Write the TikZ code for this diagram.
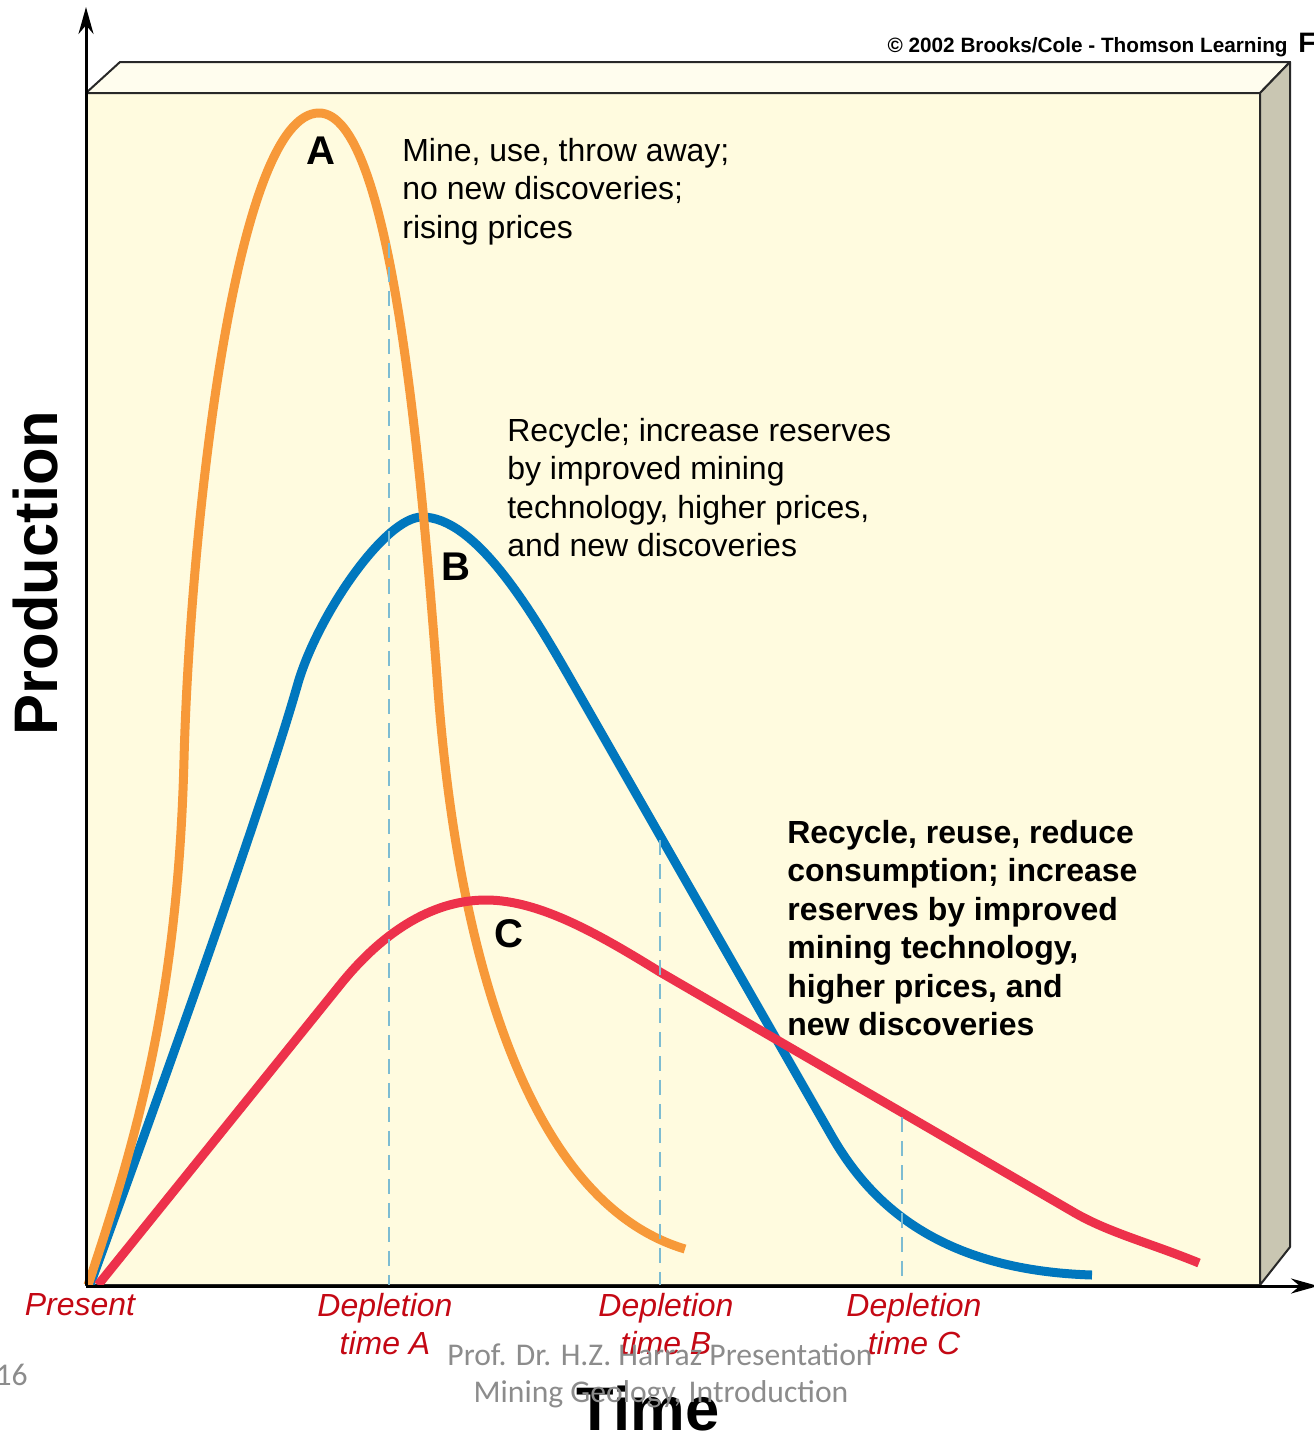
\documentclass[tikz,border=0pt]{standalone}
\usepackage{fontspec}
\setmainfont{Liberation Sans}
\newfontfamily\slideFont{Carlito}
\usetikzlibrary{arrows.meta}
\usetikzlibrary{positioning}

\definecolor{faceFront}{RGB}{255,251,223}
\definecolor{faceTop}{RGB}{255,253,238}
\definecolor{faceSide}{RGB}{201,198,178}
\definecolor{boxEdge}{RGB}{40,40,40}
\definecolor{curveOrange}{RGB}{247,153,57}
\definecolor{curveBlue}{RGB}{0,119,190}
\definecolor{curveRed}{RGB}{237,49,75}
\definecolor{dashBlue}{RGB}{125,188,210}
\definecolor{labelRed}{RGB}{196,8,20}
\definecolor{slideGray}{RGB}{140,140,140}

\tikzset{
  prodCurve/.style={line width=0.18cm, line cap=butt, line join=round},
  depletionLine/.style={draw=dashBlue, line width=0.04cm, dash pattern=on 0.3cm off 0.18cm},
  axisLine/.style={line width=0.06cm, -{Stealth[length=0.54cm, width=0.3cm]}},
  noteText/.style={inner sep=0pt, anchor=north west, align=left, font=\fontsize{18.2}{21.85}\selectfont},
  noteBold/.style={noteText, font=\fontsize{18.2}{21.85}\selectfont\bfseries},
  timeLabel/.style={inner sep=0pt, anchor=north, align=center, text=labelRed, font=\fontsize{18.2}{21.85}\selectfont\itshape},
  curveLetter/.style={inner sep=0pt, font=\fontsize{22.8}{22.8}\selectfont\bfseries},
  axisTitle/.style={inner sep=0pt, anchor=base, font=\fontsize{35}{35}\selectfont\bfseries},
  slideText/.style={inner sep=0pt, anchor=base, text=slideGray, font=\slideFont\fontsize{18}{18}\selectfont}
}

\begin{document}
\begin{tikzpicture}[x=0.02cm, y=-0.02cm]
    \useasboundingbox (0,0) rectangle (1313,1440);

    \fill [faceFront] (86,93) rectangle (1260,1285);
    \filldraw [fill=faceTop, draw=boxEdge, line width=0.04cm, line join=round] (86,93) -- (120,62) -- (1290,62) -- (1260,93) -- cycle;
    \filldraw [fill=faceSide, draw=boxEdge, line width=0.04cm, line join=round] (1260,93) -- (1290,62) -- (1290,1247) -- (1260,1285) -- cycle;
    \draw [boxEdge, line width=0.04cm] (86,93) rectangle (1260,1285);

    \draw [prodCurve, curveBlue] (90,1285) .. controls (150,1120) and (262,810) .. (298,683)
        .. controls (318,615) and (385,517) .. (422,517)
        .. controls (475,517) and (530,608) .. (571,680) -- (830,1133)
        .. controls (865,1195) and (930,1270) .. (1092,1275);
    \draw [prodCurve, curveOrange] (88,1285) .. controls (140,1130) and (178,990) .. (184,760)
        .. controls (190,530) and (235,113) .. (319,113)
        .. controls (390,113) and (420,450) .. (438,690)
        .. controls (456,930) and (520,1200) .. (685,1249);
    \draw [prodCurve, curveRed] (98,1285) -- (340,985)
        .. controls (380,935) and (430,900) .. (486,900)
        .. controls (540,900) and (600,935) .. (660,972) -- (1075,1213)
        .. controls (1110,1233) and (1150,1243) .. (1199,1263);

    \draw [depletionLine] (389,243) -- (389,1285);
    \draw [depletionLine] (660,840) -- (660,1285);
    \draw [depletionLine] (902,1117) -- (902,1285);

    \draw [axisLine] (86,1285) -- (86,7);
    \draw [axisLine] (86,1286) -- (1318,1286);

    \node [curveLetter] (letterA) at (321,151) {A};
    \node [curveLetter] (letterB) at (456,567) {B};
    \node [curveLetter] (letterC) at (509,934) {C};

    \node [noteText] (noteA) at (402,138) {Mine, use, throw away;\\no new discoveries;\\rising prices};
    \node [noteText] (noteB) at (507,418) {Recycle; increase reserves\\by improved mining\\technology, higher prices,\\and new discoveries};
    \node [noteBold] (noteC) at (787,820) {Recycle, reuse, reduce\\consumption; increase\\reserves by improved\\mining technology,\\higher prices, and\\new discoveries};

    \node [inner sep=0pt, anchor=base east, font=\fontsize{11.8}{11.8}\selectfont\bfseries] (copyNote) at (1288,52) {\textcopyright{} 2002 Brooks/Cole - Thomson Learning};
    \node [inner sep=0pt, anchor=base west, font=\fontsize{16}{16}\selectfont\bfseries] (figMark) at (1298,52) {F};

    \node [axisTitle, rotate=90] (prodTitle) at (57,573) {Production};
    \node [axisTitle] (timeTitle) at (648,1430) {Time};

    \node [timeLabel] (present) at (80,1293) {Present};
    \node [timeLabel] (depletionA) at (385,1293) {Depletion\\time A};
    \node [timeLabel] (depletionB) at (666,1293) {Depletion\\time B};
    \node [timeLabel] (depletionC) at (914,1293) {Depletion\\time C};

    \node [slideText] (slideTitle) at (660,1365) {Prof. Dr. H.Z. Harraz Presentation};
    \node [slideText] (slideSub) at (661,1402) {Mining Geology, Introduction};
    \node [slideText, anchor=base east] (slideNum) at (28,1385) {16};
\end{tikzpicture}
\end{document}
